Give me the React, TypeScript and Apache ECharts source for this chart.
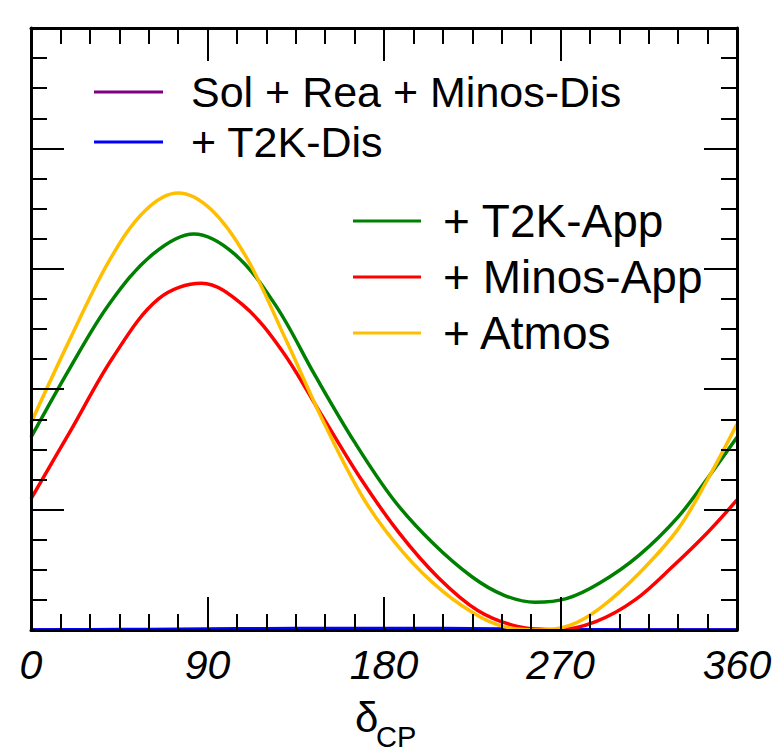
import React, { useEffect, useRef } from "react";
import * as echarts from "echarts";

// Each curve is sampled in δCP (degrees), with a node on its maximum and minimum
const solReaMinosDisX = [0, 30, 60, 90, 120, 150, 180, 210, 240, 270, 300, 330, 360];
const solReaMinosDisY = [0, 0, 0, 0, 0, 0, 0, 0, 0, 0, 0, 0, 0];

const t2kDisX = [0, 30, 60, 90, 120, 150, 180, 210, 240, 270, 300, 330, 360];
const t2kDisY = [0, 0.003, 0.005, 0.008, 0.011, 0.012, 0.013, 0.012, 0.008, 0.003, 0.001, 0, 0];

const t2kAppX = [0, 20, 40, 62, 83, 104, 125, 145, 165, 185, 205, 225, 241, 257, 273, 290, 310, 330, 345, 360];
const t2kAppY = [1.6, 2.18, 2.71, 3.12, 3.29, 3.12, 2.69, 2.11, 1.56, 1.08, 0.72, 0.44, 0.29, 0.23, 0.26, 0.39, 0.62, 0.94, 1.26, 1.6];

const minosAppX = [0, 20, 42, 65, 87, 108, 128, 148, 168, 188, 208, 228, 248, 268, 288, 308, 328, 345, 360];
const minosAppY = [1.09, 1.65, 2.27, 2.75, 2.88, 2.7, 2.32, 1.79, 1.26, 0.8, 0.43, 0.16, 0.03, 0.0, 0.07, 0.25, 0.54, 0.81, 1.08];

const atmosX = [0, 20, 40, 58, 75, 92, 110, 130, 150, 170, 190, 210, 230, 245, 260, 275, 290, 310, 330, 345, 360];
const atmosY = [1.72, 2.42, 3.07, 3.48, 3.63, 3.49, 3.09, 2.41, 1.7, 1.08, 0.64, 0.32, 0.1, 0.015, 0.0, 0.04, 0.18, 0.47, 0.84, 1.25, 1.71];

const seriesNames = ["Sol + Rea + Minos-Dis", "+ T2K-Dis", "+ T2K-App", "+ Minos-App", "+ Atmos"];
const seriesColors = ["#800080", "#0000ff", "#008000", "#ff0000", "#ffbf00"];
const seriesX = [solReaMinosDisX, t2kDisX, t2kAppX, minosAppX, atmosX];
const seriesY = [solReaMinosDisY, t2kDisY, t2kAppY, minosAppY, atmosY];

const FONT = "'Liberation Sans', Arial, Helvetica, sans-serif";

export default function App() {
  const ref = useRef<HTMLDivElement>(null);

  useEffect(() => {
    if (!ref.current) return;
    const chart = echarts.init(ref.current, null, { renderer: "svg" });

    const frameLine = { show: true, onZero: false, lineStyle: { color: "#000", width: 3 } };
    const majorTick = { show: true, inside: true, length: 33, lineStyle: { color: "#000", width: 2 } };
    const minorTick = (n: number) => ({ show: true, splitNumber: n, length: 16, lineStyle: { color: "#000", width: 2 } });

    const xBase = {
      type: "value",
      min: 0,
      max: 360,
      interval: 90,
      z: 10,
      axisLine: frameLine,
      axisTick: majorTick,
      minorTick: minorTick(6),
      splitLine: { show: false },
      minorSplitLine: { show: false },
    };
    const yBase = {
      type: "value",
      min: 0,
      max: 5,
      interval: 1,
      z: 10,
      axisLine: frameLine,
      axisTick: majorTick,
      minorTick: minorTick(4),
      splitLine: { show: false },
      minorSplitLine: { show: false },
      axisLabel: { show: false },
    };

    const legendText = (fontSize: number, lineHeight: number, gap: number) => ({
      fontFamily: FONT,
      fontSize,
      color: "#000",
      lineHeight,
      padding: [0, 0, 0, gap],
    });

    chart.setOption({
      animation: false,
      backgroundColor: "#ffffff",
      grid: { left: 31, right: 46, top: 28, bottom: 122, containLabel: false },
      xAxis: [
        {
          ...xBase,
          position: "bottom",
          axisLabel: {
            show: true,
            margin: 14,
            color: "#000",
            fontFamily: FONT,
            fontSize: 41,
            fontStyle: "italic",
          },
        },
        { ...xBase, position: "top", axisLabel: { show: false } },
      ],
      yAxis: [
        { ...yBase, position: "left" },
        { ...yBase, position: "right" },
      ],
      legend: [
        {
          data: seriesNames.slice(0, 2),
          orient: "vertical",
          left: 89,
          top: 62,
          icon: "rect",
          itemWidth: 69,
          itemHeight: 3,
          itemGap: 0,
          selectedMode: false,
          textStyle: legendText(43, 50, 23),
        },
        {
          data: seriesNames.slice(2),
          orient: "vertical",
          left: 348,
          top: 188,
          icon: "rect",
          itemWidth: 68,
          itemHeight: 3,
          itemGap: 0,
          selectedMode: false,
          textStyle: legendText(46, 56, 17),
        },
      ],
      graphic: [
        {
          type: "text",
          x: 355,
          y: 717,
          style: { text: "δ", font: `42px ${FONT}`, fill: "#000", verticalAlign: "middle" },
        },
        {
          type: "text",
          x: 376,
          y: 737,
          style: { text: "CP", font: `29px ${FONT}`, fill: "#000", verticalAlign: "middle" },
        },
      ],
      series: seriesNames.map((name, k) => ({
        name,
        type: "line",
        xAxisIndex: 0,
        yAxisIndex: 0,
        data: seriesX[k].map((d, i) => [d, seriesY[k][i]]),
        symbol: "none",
        showSymbol: false,
        smooth: 0.35,
        z: 2,
        lineStyle: { color: seriesColors[k], width: 3.5 },
        itemStyle: { color: seriesColors[k] },
      })),
    });

    return () => chart.dispose();
  }, []);

  return (
    <div
      ref={ref}
      style={{ position: "fixed", left: 0, top: 0, width: 783, height: 752, background: "#fff" }}
    />
  );
}
